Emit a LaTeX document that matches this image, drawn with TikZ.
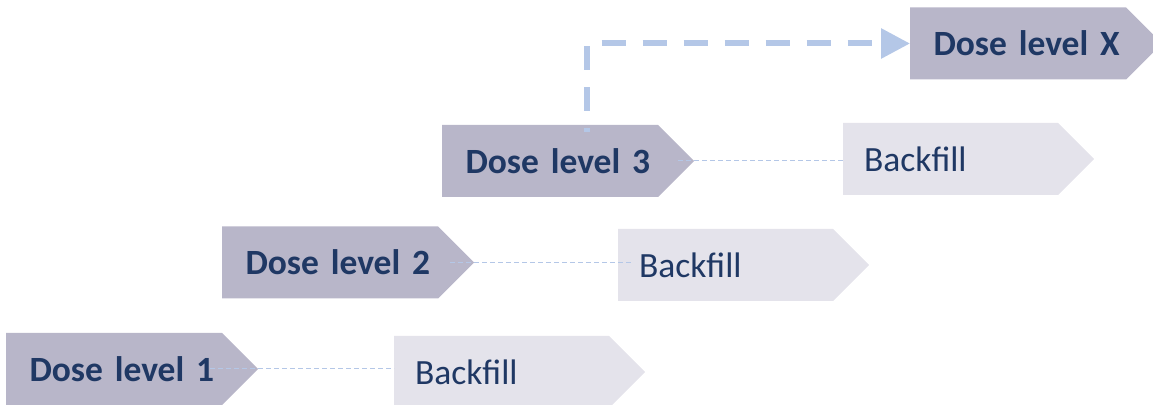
\documentclass[tikz,border=0pt]{standalone}
\usepackage{fontspec}
\setmainfont{Carlito}
\usepackage{xcolor}
\usetikzlibrary{arrows.meta}
\usetikzlibrary{positioning}
\usetikzlibrary{shapes.symbols}
\definecolor{dosefill}{HTML}{B8B6C9}
\definecolor{fillgray}{HTML}{E4E3EB}
\definecolor{navy}{HTML}{1F3864}
\definecolor{linkblue}{HTML}{B4C7E7}
\hfuzz=100pt

\begin{document}
\begin{tikzpicture}[x=1pt, y=1pt,
    node distance=136pt,
    dose/.style={signal, signal to=east, signal pointer angle=90,
      fill=dosefill, text=navy, font=\fontsize{35.5}{43}\selectfont\bfseries,
      minimum height=72pt, text width=169pt, inner xsep=23.5pt, inner ysep=0pt,
      outer sep=0pt, text height=25pt, text depth=0pt, anchor=west},
    fillbox/.style={dose, fill=fillgray, font=\fontsize{35.5}{43}\selectfont,
      text width=173pt, inner xsep=21pt},
    link/.style={linkblue, line width=1pt, dash pattern=on 5pt off 3pt},
    jump/.style={linkblue, line width=6pt, dash pattern=on 24pt off 17pt,
      dash phase=20pt, -{Triangle[length=29pt, width=29pt]}}]
  \useasboundingbox (0,0) rectangle (1153,404);
  % dose levels
  \node[dose] (dl1) at (6,35) {Dose~level~1};
  \node[dose] (dl2) at (222,141.5) {Dose~level~2};
  \node[dose] (dl3) at (442,243) {Dose~level~3};
  \node[dose] (dlX) at (910,360.5) {Dose~level~X};
  % backfill
  \node[fillbox, right=136pt of dl1, yshift=-3pt] (bf1) {Backfill};
  \node[fillbox, right=144pt of dl2, yshift=-2.5pt] (bf2) {Backfill};
  \node[fillbox, right=149pt of dl3, yshift=2pt] (bf3) {Backfill};
  % links
  \draw[link] ([xshift=-48pt]dl1.east) -- (dl1.east -| bf1.west);
  \draw[link] ([xshift=-24pt]dl2.east) -- ([xshift=14pt]bf2.west |- dl2.east);
  \draw[link] ([xshift=-16pt]dl3.east) -- (dl3.east -| bf3.west);
  \draw[jump] ([shift={(37pt,-7pt)}]dl3.north) |- (dlX.west);
\end{tikzpicture}
\end{document}
